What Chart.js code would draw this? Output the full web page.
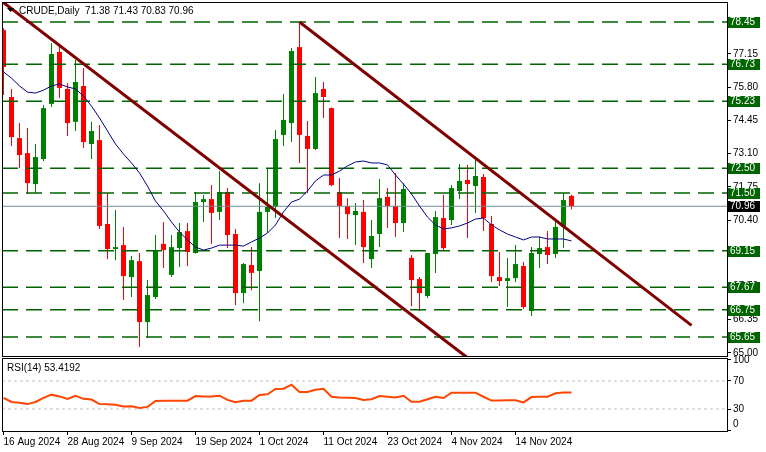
<!DOCTYPE html>
<html>
<head>
<meta charset="utf-8">
<script src="https://cdn.jsdelivr.net/npm/chart.js@4"></script>
<style>
  body { margin: 0; background: #fff; }
  #wrap { position: relative; width: 766px; height: 452px; overflow: hidden; }
  canvas { position: absolute; left: 0; }
  #mainChart { top: 0; }
  #rsiChart { top: 352px; }
</style>
</head>
<body>
<div id="wrap">
  <canvas id="mainChart" width="766" height="362"></canvas>
  <canvas id="rsiChart" width="766" height="100"></canvas>
</div>
<script>
// Daily candles, 16 Aug 2024 .. 25 Nov 2024 (one entry per trading day)
const opens = [78.12, 75.40, 73.73, 73.12, 71.86, 72.88, 75.12, 77.23, 75.73, 74.39, 75.85, 73.49, 73.65, 70.24, 69.22, 69.38, 68.08, 68.73, 66.25, 67.27, 69.43, 68.17, 69.26, 69.95, 69.06, 71.13, 71.25, 70.73, 71.54, 69.83, 67.43, 68.57, 68.33, 70.73, 70.93, 73.86, 74.34, 77.43, 73.82, 73.29, 75.73, 74.95, 71.54, 70.97, 70.60, 70.73, 68.81, 69.83, 71.34, 70.97, 70.28, 68.86, 68.00, 67.31, 69.02, 70.48, 70.40, 71.58, 72.03, 71.78, 72.15, 70.24, 68.08, 67.92, 68.04, 68.53, 66.70, 69.02, 69.30, 69.02, 70.12, 71.38];
const highs = [78.20, 75.73, 74.34, 74.14, 73.49, 75.08, 77.60, 77.43, 75.97, 76.91, 76.58, 74.39, 74.26, 71.50, 70.81, 70.12, 68.94, 69.06, 67.96, 69.79, 70.32, 69.79, 70.28, 70.28, 71.54, 71.42, 71.82, 72.39, 71.70, 70.04, 68.65, 69.30, 71.90, 72.51, 74.06, 75.52, 77.39, 78.45, 74.43, 76.21, 76.01, 74.97, 72.11, 71.29, 71.09, 71.21, 70.40, 72.07, 71.70, 72.31, 71.90, 68.98, 68.08, 69.06, 70.77, 71.42, 71.82, 72.68, 72.64, 72.88, 72.27, 70.56, 69.10, 68.86, 69.38, 68.69, 69.30, 69.71, 69.95, 70.40, 71.50, 71.43];
const lows = [75.48, 73.41, 72.51, 71.46, 71.50, 72.80, 74.99, 75.36, 73.82, 74.02, 73.33, 72.88, 70.04, 68.81, 68.77, 67.15, 67.27, 65.24, 65.60, 67.19, 68.45, 68.08, 68.49, 68.53, 69.04, 70.32, 69.43, 70.40, 69.26, 66.94, 67.02, 67.55, 66.29, 69.87, 70.48, 73.41, 73.57, 72.72, 71.50, 73.25, 74.55, 71.78, 69.67, 69.63, 69.38, 68.65, 68.45, 69.30, 70.08, 69.71, 69.91, 66.90, 66.70, 67.23, 68.25, 69.18, 70.20, 71.25, 69.67, 70.69, 69.95, 67.88, 67.72, 66.86, 67.88, 66.78, 66.50, 68.45, 68.61, 68.86, 69.26, 70.83];
const closes = [76.62, 73.77, 73.04, 71.90, 72.96, 74.95, 77.15, 75.77, 74.34, 76.01, 73.57, 74.02, 70.16, 69.22, 69.30, 68.12, 68.77, 66.25, 67.35, 69.18, 69.18, 69.30, 69.91, 69.10, 71.13, 71.25, 70.69, 71.54, 69.79, 67.43, 68.61, 68.25, 70.73, 70.93, 73.69, 74.47, 77.27, 73.86, 73.29, 75.56, 75.40, 71.82, 70.97, 70.64, 70.77, 69.30, 69.75, 71.29, 70.97, 70.28, 71.66, 67.96, 67.43, 69.06, 70.52, 69.26, 71.70, 71.99, 71.86, 72.19, 70.48, 68.12, 67.92, 68.04, 68.61, 66.86, 69.06, 69.26, 68.98, 70.12, 71.21, 70.96];

// moving average drawn on the price panel
const maValues = [76.42, 76.17, 75.85, 75.60, 75.56, 75.68, 75.85, 75.93, 75.81, 75.73, 75.44, 75.03, 74.55, 74.02, 73.49, 73.08, 72.72, 72.31, 71.78, 71.17, 70.77, 70.32, 69.91, 69.59, 69.30, 69.18, 69.26, 69.38, 69.38, 69.38, 69.34, 69.51, 69.67, 69.87, 70.20, 70.73, 71.13, 71.25, 71.58, 71.99, 72.23, 72.23, 72.39, 72.60, 72.76, 72.80, 72.72, 72.72, 72.64, 72.23, 71.86, 71.46, 70.97, 70.52, 70.20, 70.04, 70.08, 70.16, 70.28, 70.44, 70.48, 70.20, 70.00, 69.83, 69.71, 69.59, 69.71, 69.71, 69.63, 69.63, 69.63, 69.55];

// RSI(14)
const rsiValues = [46, 40, 39, 37, 40, 46, 50.5, 48, 44.5, 49, 44.5, 43.5, 37, 36.7, 36, 33.5, 33.8, 31.5, 33, 41.4, 41.9, 41.9, 41.9, 41.9, 48.5, 48, 48, 49, 43, 39.6, 41.9, 41.9, 50, 51, 58.6, 59, 64.7, 54.3, 54.3, 57.5, 59, 47.6, 46.5, 46, 45.7, 43, 43.9, 48.6, 47.5, 46.5, 49, 40.4, 40.4, 44, 47.6, 45.7, 53.3, 53.3, 53.3, 53.3, 47.5, 42, 42, 42.5, 42.5, 39.5, 47, 47.6, 47.6, 52.4, 53.4, 53.4];

// horizontal support / resistance levels and the last price
const levels = [78.45, 76.73, 75.23, 72.50, 71.50, 69.15, 67.67, 66.75, 65.65];
const lastPrice = 70.96;

// two falling trend lines (bar index, price)
const trendA = [{ x: 0, y: 79.24 }, { x: 58, y: 64.80 }];
const trendB = [{ x: 37, y: 78.45 }, { x: 86, y: 66.12 }];

// axis ticks
const priceTicks = [77.15, 75.80, 74.45, 73.10, 71.75, 70.40, 69.05, 67.70, 66.35, 65.00];
const rsiTicks = [0, 30, 70, 100];
const rsiLevels = [70, 30];
const dateTickBars = [0, 8, 16, 24, 32, 40, 48, 56, 64];
const dateTickLabels = ["16 Aug 2024", "28 Aug 2024", "9 Sep 2024", "19 Sep 2024", "1 Oct 2024", "11 Oct 2024", "23 Oct 2024", "4 Nov 2024", "14 Nov 2024"];

// view window (bar index range and price range shown)
const xMin = -0.1875, xMax = 90.5625;
const priceMin = 64.832, priceMax = 79.263;

const FONT = '"Liberation Sans", Arial, sans-serif';
Chart.defaults.font.family = FONT;
Chart.defaults.font.size = 10;
Chart.defaults.color = "#000";

const upColor = "#008000";
const downColor = "#ff0000";
const candleColors = closes.map((c, i) => (c >= opens[i] ? upColor : downColor));

function hLine(y) {
  return [{ x: xMin, y: y }, { x: xMax, y: y }];
}

// black frame around a chart area
const framePlugin = {
  id: "frame",
  afterDraw(chart) {
    const a = chart.chartArea;
    const ctx = chart.ctx;
    ctx.save();
    ctx.strokeStyle = "#000";
    ctx.lineWidth = 1;
    ctx.strokeRect(a.left + 0.5, a.top + 0.5, a.right - a.left - 1, a.bottom - a.top - 1);
    ctx.restore();
  },
};

// header text and value boxes on the price axis
const priceDecor = {
  id: "priceDecor",
  afterDraw(chart) {
    const ctx = chart.ctx;
    const ys = chart.scales.y;
    ctx.save();
    ctx.font = "10px " + FONT;
    ctx.textBaseline = "middle";

    function box(v, fill, textColor) {
      const y = Math.round(ys.getPixelForValue(v));
      ctx.fillStyle = fill;
      ctx.fillRect(728, y - 5, 32, 11);
      ctx.fillStyle = textColor;
      ctx.fillText(v.toFixed(2), 730, y + 0.5);
    }
    levels.forEach((v) => box(v, "#006400", "#fff"));
    box(lastPrice, "#000", "#fff");

    // small menu triangle + symbol line
    ctx.fillStyle = "#000";
    ctx.beginPath();
    ctx.moveTo(7, 8);
    ctx.lineTo(14, 8);
    ctx.lineTo(10.5, 12);
    ctx.closePath();
    ctx.fill();
    ctx.fillText(
      "CRUDE,Daily  " + [opens[71], highs[71], lows[71], closes[71]].map((v) => v.toFixed(2)).join(" "),
      19, 11
    );
    ctx.restore();
  },
};

const rsiDecor = {
  id: "rsiDecor",
  afterDraw(chart) {
    const ctx = chart.ctx;
    ctx.save();
    ctx.font = "10px " + FONT;
    ctx.fillStyle = "#000";
    ctx.textBaseline = "middle";
    ctx.fillText("RSI(14) " + "53.4192", 7, 16);
    ctx.restore();
  },
};

const commonOptions = {
  responsive: false,
  animation: false,
  devicePixelRatio: 1,
  events: [],
  plugins: { legend: { display: false }, tooltip: { enabled: false } },
};

// ---- price panel ----
const levelSets = levels.map((v) => ({
  type: "line",
  data: hLine(v),
  borderColor: "#006400",
  borderWidth: 1.5,
  borderDash: [16, 8],
  pointRadius: 0,
  clip: 0,
  order: 7,
}));

new Chart(document.getElementById("mainChart"), {
  type: "bar",
  data: {
    datasets: [
      {
        // wicks
        data: lows.map((l, i) => ({ x: i, y: [l, highs[i]] })),
        backgroundColor: candleColors,
        barThickness: 1,
        grouped: false,
        inflateAmount: 0,
        order: 10,
      },
      {
        // bodies
        data: opens.map((o, i) => ({ x: i, y: [o, closes[i]] })),
        backgroundColor: candleColors,
        barThickness: 5,
        minBarLength: 1,
        grouped: false,
        inflateAmount: 0,
        order: 9,
      },
      {
        type: "line",
        data: hLine(lastPrice),
        borderColor: "#778899",
        borderWidth: 1,
        pointRadius: 0,
        clip: 0,
        order: 8,
      },
      ...levelSets,
      {
        type: "line",
        data: maValues.map((v, i) => ({ x: i, y: v })),
        borderColor: "#000080",
        borderWidth: 1,
        pointRadius: 0,
        clip: 0,
        order: 6,
      },
      {
        type: "line",
        data: trendA,
        borderColor: "#800000",
        borderWidth: 3,
        pointRadius: 0,
        clip: 0,
        order: 5,
      },
      {
        type: "line",
        data: trendB,
        borderColor: "#800000",
        borderWidth: 3,
        pointRadius: 0,
        clip: 0,
        order: 5,
      },
    ],
  },
  options: {
    ...commonOptions,
    layout: { padding: { left: 2, top: 2, right: 0, bottom: 5 } },
    scales: {
      x: { type: "linear", display: false, min: xMin, max: xMax, offset: false },
      y: {
        position: "right",
        min: priceMin,
        max: priceMax,
        afterBuildTicks: (scale) => {
          scale.ticks = priceTicks.map((v) => ({ value: v }));
        },
        afterFit: (scale) => {
          scale.width = 38;
          scale.paddingTop = 0;
          scale.paddingBottom = 0;
        },
        ticks: { callback: (v) => Number(v).toFixed(2), padding: 2, color: "#000", autoSkip: false },
        grid: { drawOnChartArea: false, drawTicks: true, tickLength: 3, color: "#000" },
        border: { display: false },
      },
    },
  },
  plugins: [framePlugin, priceDecor],
});

// ---- RSI panel ----
new Chart(document.getElementById("rsiChart"), {
  type: "line",
  data: {
    datasets: [
      ...rsiLevels.map((v) => ({
        data: hLine(v),
        borderColor: "#c0c0c0",
        borderWidth: 1,
        borderDash: [3, 3],
        pointRadius: 0,
        clip: 0,
        order: 2,
      })),
      {
        data: rsiValues.map((v, i) => ({ x: i, y: v })),
        borderColor: "#ff4500",
        borderWidth: 2,
        pointRadius: 0,
        clip: 0,
        order: 1,
      },
    ],
  },
  options: {
    ...commonOptions,
    layout: { padding: { left: 2, top: 6, right: 0, bottom: 0 } },
    scales: {
      x: {
        type: "linear",
        min: xMin,
        max: xMax,
        offset: false,
        afterBuildTicks: (scale) => {
          scale.ticks = dateTickBars.map((v) => ({ value: v }));
        },
        afterFit: (scale) => {
          scale.height = 20;
          scale.paddingLeft = 0;
          scale.paddingRight = 0;
        },
        ticks: {
          autoSkip: false,
          maxRotation: 0,
          minRotation: 0,
          align: "start",
          padding: 1,
          color: "#000",
          callback: (v) => dateTickLabels[dateTickBars.indexOf(v)],
        },
        grid: { drawOnChartArea: false, drawTicks: true, tickLength: 3, color: "#000" },
        border: { display: false },
      },
      y: {
        position: "right",
        min: -2.857,
        max: 102.857,
        afterBuildTicks: (scale) => {
          scale.ticks = rsiTicks.map((v) => ({ value: v }));
        },
        afterFit: (scale) => {
          scale.width = 38;
          scale.paddingTop = 0;
          scale.paddingBottom = 0;
        },
        // 0 sits half a line above its tick (empty companion line), like the terminal
        ticks: {
          autoSkip: false,
          padding: 2,
          color: "#000",
          callback: (v) => (v === 0 ? ["0", ""] : String(v)),
        },
        grid: { drawOnChartArea: false, drawTicks: true, tickLength: 3, color: "#000" },
        border: { display: false },
      },
    },
  },
  plugins: [framePlugin, rsiDecor],
});
</script>
</body>
</html>
